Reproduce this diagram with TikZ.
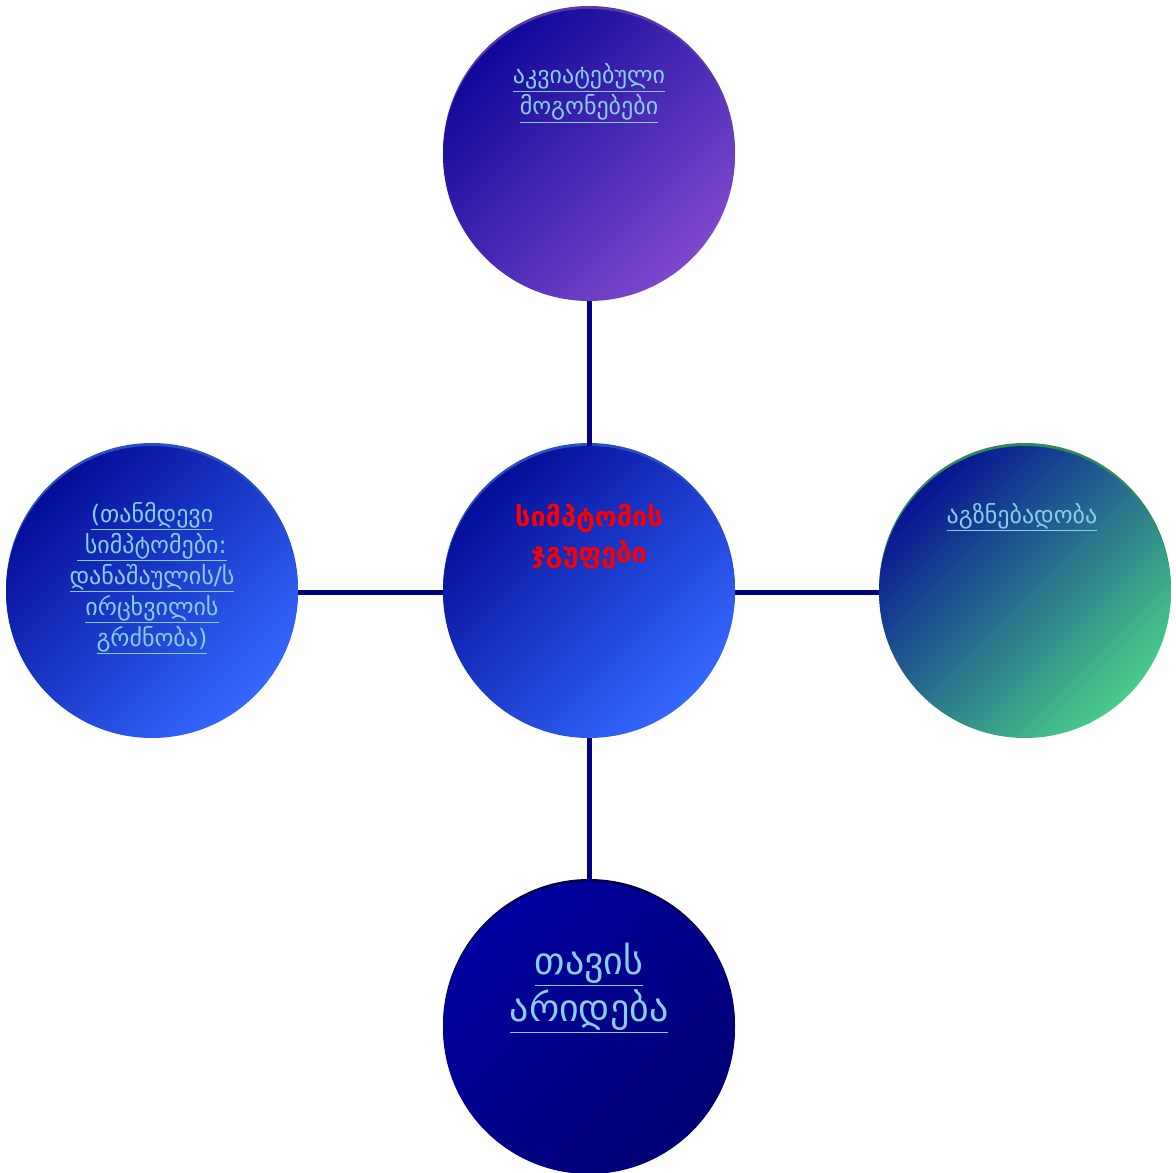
\documentclass[tikz,border=0pt]{standalone}
\usepackage{fontspec}
\setmainfont{DejaVu Sans}
\definecolor{navyline}{HTML}{000080}
\definecolor{txtblue}{HTML}{87CEEB}
\definecolor{topdark}{HTML}{10089A}
\definecolor{toplight}{HTML}{7E48CC}
\definecolor{toprim}{HTML}{5A3AA8}
\definecolor{bluedark}{HTML}{040E98}
\definecolor{bluelight}{HTML}{3468FF}
\definecolor{bluerim}{HTML}{2A50C0}
\definecolor{greendark}{HTML}{081494}
\definecolor{greenlight}{HTML}{48CC88}
\definecolor{greenrim}{HTML}{2E8B57}
\definecolor{botdark}{HTML}{0000A0}
\definecolor{botlight}{HTML}{000074}
\definecolor{botrim}{HTML}{000050}
\begin{document}
\begin{tikzpicture}[x=1pt,y=-1pt,
  bubble/.style n args={2}{circle, draw=none, minimum size=292pt, inner sep=0pt,
     top color=#1, bottom color=#2, shading angle=45},
  rim/.style={fill=#1},
  conn/.style={draw=navyline, line width=5pt},
  lbl/.style={text=txtblue, align=center, font=\fontsize{24}{31}\selectfont, inner sep=0pt},
  mainlbl/.style={text=red, align=center, font=\bfseries\fontsize{27}{36}\selectfont, inner sep=0pt}
]
\useasboundingbox (0,0) rectangle (1176,1173);
% rims
\fill[rim=toprim] (589,152) circle (146);
\fill[rim=bluerim] (589,589) circle (146);
\fill[rim=bluerim] (152,589) circle (146);
\fill[rim=greenrim] (1025,589) circle (146);
\fill[rim=botrim] (589,1025) circle (146);
% bubbles
\node[bubble={topdark}{toplight}] (top) at (589,155) {};
\node[bubble={bluedark}{bluelight}] (center) at (589,592) {};
\node[bubble={bluedark}{bluelight}] (left) at (152,592) {};
\node[bubble={greendark}{greenlight}] (right) at (1025,592) {};
\node[bubble={botdark}{botlight}] (bottom) at (589,1028) {};
% connectors
\draw[conn] (top) -- (center);
\draw[conn] (left) -- (center);
\draw[conn] (center) -- (right);
\draw[conn] (center) -- (bottom);
% labels
\node[lbl] (toptext) at (589,93) {\underline{აკვიატებული}\\\underline{მოგონებები}};
\node[mainlbl] (centertext) at (589,536) {სიმპტომის\\ჯგუფები};
\node[lbl] (lefttext) at (152,578) {\underline{(თანმდევი}\\\underline{\ სიმპტომები:}\\\underline{დანაშაულის/ს}\\\underline{ირცხვილის}\\\underline{გრძნობა)}};
\node[lbl] (righttext) at (1022,517) {\underline{აგზნებადობა}};
\node[lbl, font=\fontsize{38}{47}\selectfont] (bottomtext) at (589,988) {\underline{თავის}\\\underline{არიდება}};
\end{tikzpicture}
\end{document}
